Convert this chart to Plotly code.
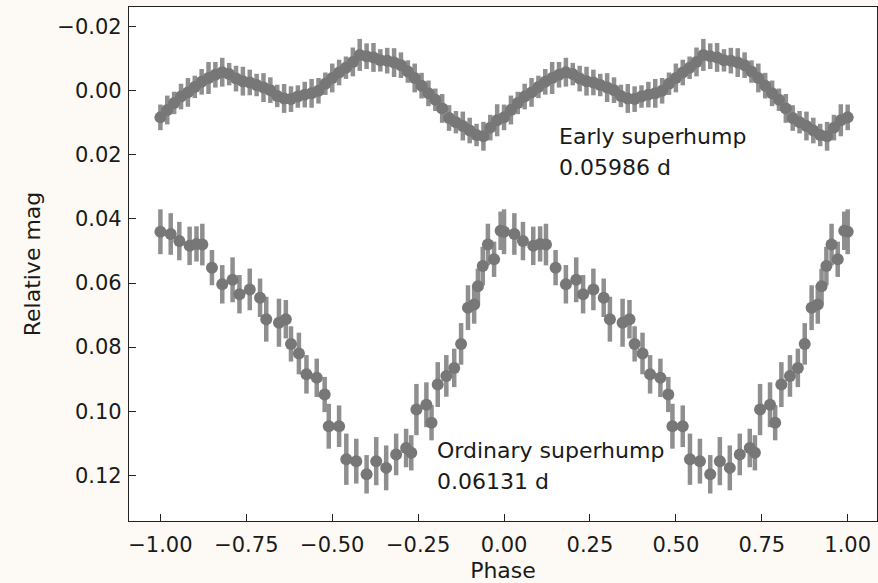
import plotly.graph_objects as go

# ---------------- data (one folded cycle, phase 0..1) ----------------
early_phase = [0.00, 0.02, 0.04, 0.06, 0.08, 0.10, 0.12, 0.14, 0.16, 0.18,
               0.20, 0.22, 0.24, 0.26, 0.28, 0.30, 0.32, 0.34, 0.36, 0.38,
               0.40, 0.42, 0.44, 0.46, 0.48, 0.50, 0.52, 0.54, 0.56, 0.58,
               0.60, 0.62, 0.64, 0.66, 0.68, 0.70, 0.72, 0.74, 0.76, 0.78,
               0.80, 0.82, 0.84, 0.86, 0.88, 0.90, 0.92, 0.94, 0.96, 0.98]
early_mag = [0.0083, 0.0060, 0.0038, 0.0018, 0.0005, -0.0012, -0.0028, -0.0040, -0.0050, -0.0058,
             -0.0052, -0.0038, -0.0030, -0.0026, -0.0018, -0.0010, -0.0002, 0.0016, 0.0024, 0.0026,
             0.0018, 0.0012, 0.0008, 0.0000, -0.0022, -0.0040, -0.0057, -0.0072, -0.0090, -0.0112,
             -0.0108, -0.0104, -0.0095, -0.0094, -0.0088, -0.0080, -0.0060, -0.0040, -0.0016, 0.0008,
             0.0028, 0.0055, 0.0085, 0.0098, 0.0110, 0.0124, 0.0138, 0.0142, 0.0115, 0.0092]
early_err = [0.0040, 0.0045, 0.0035, 0.0040, 0.0045, 0.0035, 0.0040, 0.0050, 0.0040, 0.0045,
             0.0035, 0.0040, 0.0045, 0.0040, 0.0035, 0.0045, 0.0040, 0.0035, 0.0045, 0.0040,
             0.0035, 0.0040, 0.0045, 0.0040, 0.0035, 0.0045, 0.0040, 0.0035, 0.0045, 0.0050,
             0.0040, 0.0045, 0.0035, 0.0040, 0.0045, 0.0040, 0.0035, 0.0045, 0.0040, 0.0040,
             0.0035, 0.0045, 0.0040, 0.0035, 0.0045, 0.0040, 0.0035, 0.0045, 0.0040, 0.0050]

ord_phase = [0.000, 0.030, 0.055, 0.085, 0.105, 0.122, 0.150, 0.180, 0.210, 0.230,
             0.260, 0.290, 0.308, 0.345, 0.365, 0.380, 0.403, 0.425, 0.455, 0.478,
             0.490, 0.520, 0.541, 0.570, 0.600, 0.628, 0.657, 0.686, 0.715, 0.730,
             0.745, 0.774, 0.789, 0.807, 0.832, 0.855, 0.875, 0.895, 0.913, 0.924,
             0.938, 0.953, 0.971, 0.990]
ord_mag = [0.0440, 0.0447, 0.0469, 0.0484, 0.0478, 0.0480, 0.0552, 0.0604, 0.0590, 0.0635,
           0.0620, 0.0646, 0.0713, 0.0724, 0.0713, 0.0790, 0.0820, 0.0885, 0.0896, 0.0948,
           0.1047, 0.1047, 0.1150, 0.1156, 0.1197, 0.1156, 0.1177, 0.1135, 0.1115, 0.1130,
           0.0995, 0.0980, 0.1036, 0.0917, 0.0890, 0.0865, 0.0790, 0.0677, 0.0667, 0.0610,
           0.0547, 0.0480, 0.0526, 0.0437]
ord_err = [0.0070, 0.0065, 0.0060, 0.0060, 0.0055, 0.0065, 0.0055, 0.0060, 0.0070, 0.0060,
           0.0065, 0.0060, 0.0070, 0.0075, 0.0060, 0.0055, 0.0065, 0.0060, 0.0060, 0.0055,
           0.0070, 0.0065, 0.0080, 0.0070, 0.0060, 0.0075, 0.0070, 0.0065, 0.0060, 0.0055,
           0.0080, 0.0070, 0.0055, 0.0070, 0.0065, 0.0060, 0.0065, 0.0070, 0.0060, 0.0055,
           0.0060, 0.0065, 0.0055, 0.0060]

x_ticks = [-1.00, -0.75, -0.50, -0.25, 0.00, 0.25, 0.50, 0.75, 1.00]
y_ticks = [-0.02, 0.00, 0.02, 0.04, 0.06, 0.08, 0.10, 0.12]

early_label = ["Early superhump", "0.05986 d"]
ord_label = ["Ordinary superhump", "0.06131 d"]

# ---------------- figure ----------------
def two_cycles(ph, vals):
    xs = [p - 1 for p in ph] + list(ph) + [1.0]
    ys = list(vals) + list(vals) + [vals[0]]
    return xs, ys

MARK = "#777777"
ERRC = "#8f8f8f"
FONT = "DejaVu Sans"
TXT = "#1a1a1a"

fig = go.Figure()
for ph, mag, err in [(early_phase, early_mag, early_err), (ord_phase, ord_mag, ord_err)]:
    xs, ys = two_cycles(ph, mag)
    _, es = two_cycles(ph, err)
    fig.add_trace(go.Scatter(
        x=xs, y=ys, mode="markers",
        marker=dict(size=12, color=MARK, line=dict(width=0)),
        error_y=dict(type="data", array=es, visible=True, color=ERRC, thickness=4.5, width=0),
        showlegend=False, hoverinfo="skip"))

ann = []
for lbl, x0, ys in [(early_label, 0.1528, [0.0143, 0.0240]), (ord_label, -0.2015, [0.1124, 0.1218])]:
    for t, yy in zip(lbl, ys):
        ann.append(dict(x=x0, y=yy, xref="x", yref="y", text=t, showarrow=False,
                        xanchor="left", yanchor="middle",
                        font=dict(family=FONT, size=22, color=TXT)))

axis_common = dict(showline=True, linecolor="#222222", linewidth=1.3, mirror=True,
                   ticks="inside", ticklen=7, tickwidth=1.2, tickcolor="#222222",
                   showgrid=False, zeroline=False,
                   tickfont=dict(family=FONT, size=21, color=TXT))

fig.update_layout(
    width=878, height=583,
    margin=dict(l=129, r=1, t=7, b=62),
    paper_bgcolor="#fdfaf5", plot_bgcolor="#ffffff",
    annotations=ann,
    xaxis=dict(range=[-1.0914, 1.0853], tickvals=x_ticks,
               ticktext=[f"{v:.2f}".replace("-", "\u2212") for v in x_ticks],
               ticklabelstandoff=5,
               title=dict(text="Phase", font=dict(family=FONT, size=22, color=TXT), standoff=7),
               **axis_common),
    yaxis=dict(range=[0.13428, -0.02615], tickvals=y_ticks,
               ticktext=[f"{v:.2f}".replace("-", "\u2212") for v in y_ticks],
               ticklabelstandoff=2,
               title=dict(text="Relative mag", font=dict(family=FONT, size=22, color=TXT), standoff=10),
               **axis_common),
)

fig.write_html("out.html")
